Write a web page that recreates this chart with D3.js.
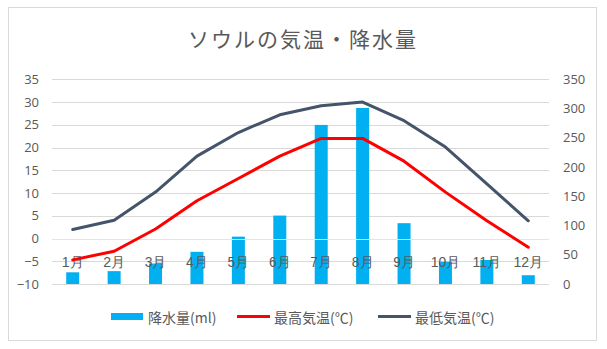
<!DOCTYPE html>
<html><head><meta charset="utf-8">
<script src="https://cdn.jsdelivr.net/npm/d3@7"></script>
<style>
html,body{margin:0;padding:0;background:#fff;}
svg{display:block;font-family:"Noto Sans CJK JP","Noto Sans",sans-serif;}
</style></head>
<body>
<svg id="chart" width="607" height="349"></svg>
<script>
const months = ["1月","2月","3月","4月","5月","6月","7月","8月","9月","10月","11月","12月"];
const precipitation = [20, 22, 35, 55, 81, 117, 272, 301, 104, 38, 41, 15];
const maxTemp = [-4.7, -2.8, 2.1, 8.3, 13.2, 18.1, 22.0, 22.0, 17.0, 10.2, 3.9, -1.9];
const minTemp = [2.0, 4.0, 10.2, 18.1, 23.3, 27.2, 29.2, 30.0, 25.9, 20.1, 12.0, 3.9];
const leftTicks = [-10, -5, 0, 5, 10, 15, 20, 25, 30, 35];
const rightTicks = [0, 50, 100, 150, 200, 250, 300, 350];
const title = "ソウルの気温・降水量";
const seriesNames = ["降水量(ml)", "最高気温(℃)", "最低気温(℃)"];
const colors = {bar: "#00B0F0", max: "#FF0000", min: "#44546A", grid: "#D9D9D9", text: "#595959"};

const svg = d3.select("#chart");
const plot = {left: 52, right: 549, top: 79.3, bottom: 284};

// outer border
svg.append("rect").attr("x", 8.5).attr("y", 7.5).attr("width", 588).attr("height", 333)
  .attr("fill", "#fff").attr("stroke", colors.grid).attr("stroke-width", 1);

// title
svg.append("text").attr("x", 303).attr("y", 38).attr("text-anchor", "middle")
  .attr("dominant-baseline", "central").attr("font-size", 21).attr("letter-spacing", "2px")
  .attr("fill", colors.text).text(title);

const x = d3.scaleBand().domain(months).range([plot.left, plot.right]).padding(0);
const yL = d3.scaleLinear().domain([-10, 35]).range([plot.bottom, plot.top]);
const yR = d3.scaleLinear().domain([0, 350]).range([plot.bottom, plot.top]);

// gridlines
svg.append("g").selectAll("line").data(leftTicks).join("line")
  .attr("x1", plot.left).attr("x2", plot.right)
  .attr("y1", d => Math.round(yL(d)) + 0.5).attr("y2", d => Math.round(yL(d)) + 0.5)
  .attr("stroke", colors.grid).attr("stroke-width", 1);

// left axis
const gL = svg.append("g").attr("transform", `translate(${plot.left},0)`)
  .call(d3.axisLeft(yL).tickValues(leftTicks).tickSize(0).tickPadding(13));
gL.select(".domain").remove();
gL.selectAll("text").attr("font-size", 13).attr("fill", colors.text)
  .attr("font-family", "'Open Sans','Noto Sans',sans-serif");

// right axis
const gR = svg.append("g").attr("transform", `translate(${plot.right},0)`)
  .call(d3.axisRight(yR).tickValues(rightTicks).tickSize(0).tickPadding(14));
gR.select(".domain").remove();
gR.selectAll("text").attr("font-size", 13).attr("fill", colors.text)
  .attr("font-family", "'Open Sans','Noto Sans',sans-serif");

// bars
const bw = 13;
svg.append("g").selectAll("rect").data(precipitation).join("rect")
  .attr("x", (d, i) => x(months[i]) + x.bandwidth() / 2 - bw / 2)
  .attr("width", bw)
  .attr("y", d => yR(d))
  .attr("height", d => yR(0) - yR(d))
  .attr("fill", colors.bar);

// zero line over bars
svg.append("line").attr("x1", plot.left).attr("x2", plot.right)
  .attr("y1", Math.round(yL(0)) + 0.5).attr("y2", Math.round(yL(0)) + 0.5)
  .attr("stroke", "#E4E4E4").attr("stroke-width", 1);

// category labels
const gX = svg.append("g").attr("transform", "translate(0,262)")
  .call(d3.axisBottom(x).tickSize(0).tickPadding(0));
gX.select(".domain").remove();
gX.selectAll("text").attr("y", 0).attr("dy", "0.35em").attr("font-size", 14)
  .attr("fill", colors.text);

// lines
const line = d3.line().x((d, i) => x(months[i]) + x.bandwidth() / 2).y(d => yL(d));
svg.append("path").datum(maxTemp).attr("d", line).attr("fill", "none")
  .attr("stroke", colors.max).attr("stroke-width", 3).attr("stroke-linejoin", "round").attr("stroke-linecap", "round");
svg.append("path").datum(minTemp).attr("d", line).attr("fill", "none")
  .attr("stroke", colors.min).attr("stroke-width", 3).attr("stroke-linejoin", "round").attr("stroke-linecap", "round");

// legend
const legendY = 316.5;
const legendItems = [
  {name: seriesNames[0], type: "bar", color: colors.bar, x: 111},
  {name: seriesNames[1], type: "line", color: colors.max, x: 237},
  {name: seriesNames[2], type: "line", color: colors.min, x: 378}
];
const lg = svg.append("g").selectAll("g").data(legendItems).join("g")
  .attr("transform", d => `translate(${d.x},${legendY})`);
lg.each(function(d) {
  const g = d3.select(this);
  if (d.type === "bar") {
    g.append("rect").attr("x", 0).attr("y", -3.5).attr("width", 32).attr("height", 7).attr("fill", d.color);
  } else {
    g.append("line").attr("x1", 0).attr("x2", 33).attr("y1", 0).attr("y2", 0)
      .attr("stroke", d.color).attr("stroke-width", 3);
  }
  g.append("text").attr("x", 37).attr("y", 0).attr("dominant-baseline", "central")
    .attr("font-size", 14).attr("fill", colors.text).text(d.name);
});
</script>
</body></html>
